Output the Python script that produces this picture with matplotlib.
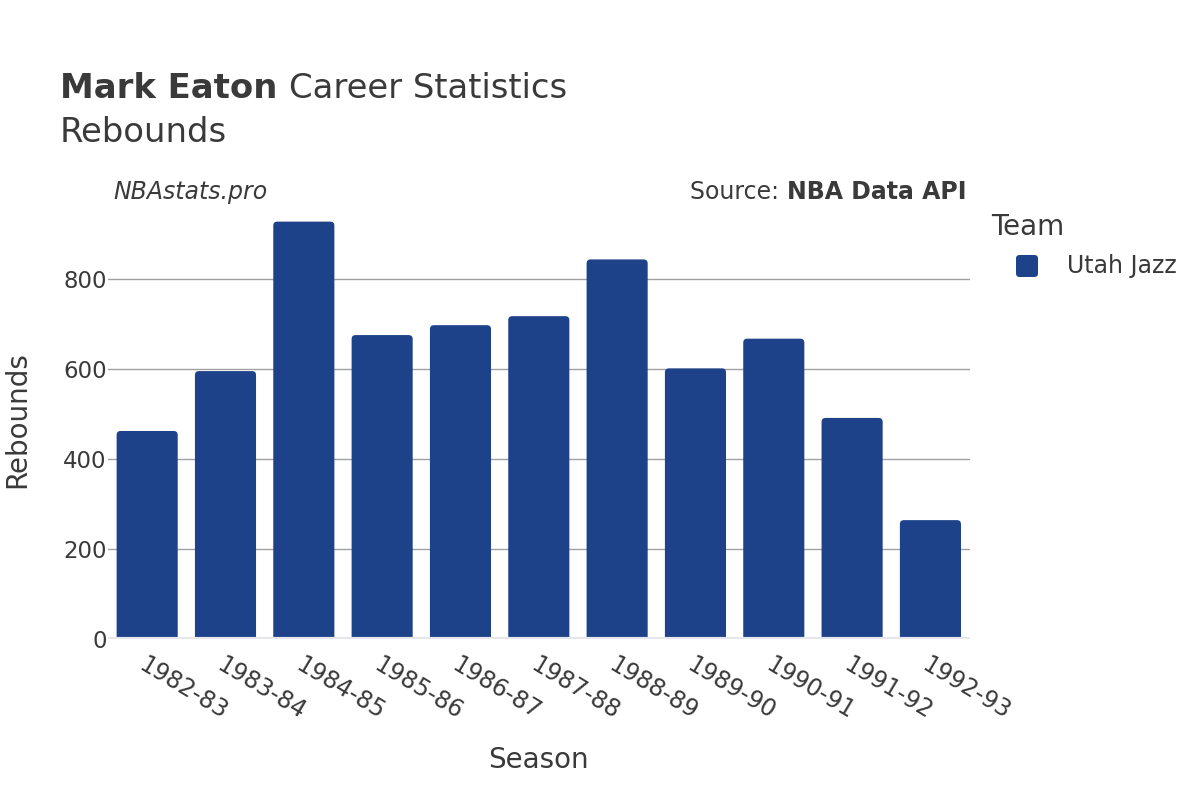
import matplotlib.pyplot as plt
from matplotlib.patches import FancyBboxPatch
import numpy as np

seasons = ['1982-83', '1983-84', '1984-85', '1985-86', '1986-87', '1987-88',
           '1988-89', '1989-90', '1990-91', '1991-92', '1992-93']
rebounds = [462, 595, 927, 675, 697, 717, 843, 601, 667, 491, 264]
team = 'Utah Jazz'

bar_color = '#1d428a'
text_color = '#3a3a3a'

plt.rcParams['font.family'] = ['DejaVu Sans']

fig = plt.figure(figsize=(12, 8), dpi=100)
ax = fig.add_axes([0.09, 0.20125, 0.718, 0.54875])

x = np.arange(len(seasons))
rects = ax.bar(x, rebounds, width=0.78, color=bar_color, zorder=3)

# swap plain bars for ones with slightly rounded corners
ax.set_xlim(-0.5, len(seasons) - 0.5)
ax.set_ylim(0, 975)
px_x = (len(seasons)) / 862.0
px_y = 975 / 439.0
for r in rects:
    r.set_visible(False)
    bx, bw, bh = r.get_x(), r.get_width(), r.get_height()
    p = FancyBboxPatch((bx, -20), bw, bh + 20,
                       boxstyle='round,pad=0,rounding_size=%f' % (4 * px_x),
                       mutation_aspect=px_y / px_x,
                       facecolor=bar_color, edgecolor='none', zorder=3)
    ax.add_patch(p)

ax.set_yticks([0, 200, 400, 600, 800])
ax.yaxis.grid(True, color='#a0a0a0', linewidth=1, zorder=0)
ax.axhline(0, color='#e6e6ee', linewidth=3, zorder=4)
for s in ax.spines.values():
    s.set_visible(False)
ax.tick_params(axis='both', length=0, labelsize=16.5, colors=text_color)
ax.tick_params(axis='x', labelsize=17)
ax.tick_params(axis='y', pad=1)
ax.set_xticks(x)
ax.set_xticklabels(seasons, rotation=-31, ha='left', va='top',
                   rotation_mode='anchor')
ax.tick_params(axis='x', pad=10)

fig.text(538 / 1200, 1 - 760 / 800, 'Season', fontsize=20, color=text_color,
         ha='center', va='center')
fig.text(17 / 1200, 1 - 420 / 800, 'Rebounds', fontsize=20, color=text_color,
         ha='center', va='center', rotation=90)

renderer = fig.canvas.get_renderer()

# titles
t1 = fig.text(0.05, 1 - 88 / 800, 'Mark Eaton ', fontsize=24.4,
              fontweight='bold', color=text_color, va='center')
bb = t1.get_window_extent(renderer)
fig.text(bb.x1 / 1200, 1 - 88 / 800, 'Career Statistics', fontsize=24.4,
         color=text_color, va='center')
fig.text(0.05, 1 - 132 / 800, 'Rebounds', fontsize=24.4, color=text_color,
         va='center')

fig.text(113 / 1200, 1 - 192 / 800, 'NBAstats.pro', fontsize=17,
         style='italic', color=text_color, va='center')
s2 = fig.text(966 / 1200, 1 - 192 / 800, 'NBA Data API', fontsize=17,
              fontweight='bold', color=text_color, va='center', ha='right')
bb = s2.get_window_extent(renderer)
fig.text(bb.x0 / 1200, 1 - 192 / 800, 'Source: ', fontsize=17,
         color=text_color, va='center', ha='right')

# legend
fig.text(991 / 1200, 1 - 227 / 800, 'Team', fontsize=20, color=text_color,
         va='center')
leg = FancyBboxPatch((1016 / 1200, 1 - 277 / 800), 22 / 1200, 22 / 800,
                     boxstyle='round,pad=0,rounding_size=0.003',
                     mutation_aspect=1.5,
                     transform=fig.transFigure, facecolor=bar_color,
                     edgecolor='none')
fig.patches.append(leg)
fig.text(1067 / 1200, 1 - 266 / 800, team, fontsize=17, color=text_color,
         va='center')

plt.savefig('out.png', dpi=100)
